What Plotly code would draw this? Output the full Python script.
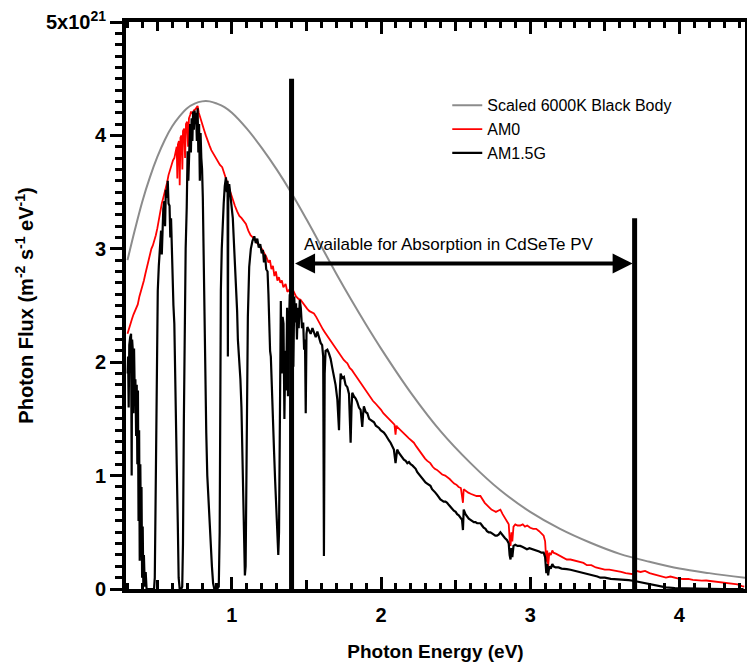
import plotly.graph_objects as go

# ---------------- data (flux in units of 1e21 m^-2 s^-1 eV^-1) ----------------
bb_energy = [0.30, 0.35, 0.40, 0.45, 0.50, 0.55, 0.60, 0.65, 0.70, 0.75, 0.80, 0.85, 0.90, 0.95,
             1.00, 1.10, 1.20, 1.30, 1.40, 1.50, 1.60, 1.70, 1.80, 1.90, 2.00, 2.20, 2.40, 2.60,
             2.80, 3.00, 3.20, 3.40, 3.60, 3.80, 4.00, 4.20, 4.44]
bb_flux = [2.90, 3.17, 3.42, 3.63, 3.81, 3.96, 4.08, 4.17, 4.24, 4.28, 4.30, 4.30, 4.28, 4.25,
           4.20, 4.06, 3.89, 3.70, 3.49, 3.26, 3.02, 2.78, 2.55, 2.33, 2.12, 1.73, 1.39, 1.11,
           0.87, 0.68, 0.53, 0.41, 0.31, 0.24, 0.18, 0.14, 0.10]

am0_energy = [0.300, 0.310, 0.320, 0.330, 0.340, 0.350, 0.360, 0.369, 0.380, 0.390, 0.400, 0.410,
              0.420, 0.430, 0.440, 0.450, 0.460, 0.470, 0.480, 0.490, 0.500, 0.510, 0.520, 0.530,
              0.540, 0.547, 0.555, 0.565, 0.575, 0.585, 0.595, 0.605, 0.614, 0.622, 0.630, 0.634,
              0.638, 0.645, 0.650, 0.655, 0.662, 0.668, 0.672, 0.680, 0.686, 0.692, 0.700, 0.706,
              0.712, 0.720, 0.726, 0.735, 0.745, 0.755, 0.765, 0.770, 0.778, 0.786, 0.795, 0.805,
              0.815, 0.825, 0.837, 0.850, 0.862, 0.875, 0.890, 0.904, 0.920, 0.935, 0.945, 0.960,
              0.975, 0.990, 1.005, 1.020, 1.035, 1.050, 1.065, 1.080, 1.094, 1.110, 1.125, 1.140,
              1.155, 1.170, 1.185, 1.200, 1.215, 1.230, 1.245, 1.255, 1.265, 1.275, 1.285, 1.295,
              1.305, 1.315, 1.325, 1.335, 1.345, 1.360, 1.372, 1.385, 1.400, 1.415, 1.430, 1.445,
              1.460, 1.475, 1.490, 1.505, 1.520, 1.535, 1.550, 1.565, 1.580, 1.595, 1.610, 1.625,
              1.640, 1.655, 1.662, 1.675, 1.690, 1.705, 1.720, 1.735, 1.750, 1.765, 1.774, 1.790,
              1.805, 1.820, 1.835, 1.850, 1.865, 1.885, 1.900, 1.915, 1.930, 1.945, 1.960, 1.975,
              1.990, 2.000, 2.015, 2.030, 2.045, 2.060, 2.075, 2.090, 2.097, 2.103, 2.108, 2.125,
              2.140, 2.155, 2.170, 2.185, 2.200, 2.220, 2.235, 2.250, 2.265, 2.280, 2.295, 2.310,
              2.330, 2.345, 2.360, 2.375, 2.390, 2.410, 2.430, 2.443, 2.460, 2.475, 2.490, 2.505,
              2.520, 2.535, 2.549, 2.554, 2.570, 2.585, 2.600, 2.620, 2.640, 2.666, 2.680, 2.695,
              2.710, 2.725, 2.740, 2.755, 2.770, 2.785, 2.800, 2.815, 2.830, 2.845, 2.856, 2.862,
              2.868, 2.874, 2.880, 2.888, 2.900, 2.915, 2.933, 2.950, 2.965, 2.980, 3.000, 3.020,
              3.040, 3.060, 3.075, 3.090, 3.100, 3.108, 3.114, 3.120, 3.128, 3.138, 3.148, 3.156,
              3.175, 3.200, 3.220, 3.245, 3.270, 3.300, 3.330, 3.357, 3.380, 3.410, 3.440, 3.468,
              3.500, 3.530, 3.560, 3.580, 3.610, 3.640, 3.670, 3.690, 3.710, 3.740, 3.770, 3.800,
              3.830, 3.860, 3.890, 3.910, 3.940, 3.970, 4.000, 4.030, 4.060, 4.090, 4.120, 4.150,
              4.180, 4.210, 4.240, 4.270, 4.300, 4.330, 4.360, 4.390, 4.420, 4.435]
am0_flux = [2.25, 2.30, 2.34, 2.38, 2.42, 2.45, 2.48, 2.51, 2.58, 2.62, 2.68, 2.72,
            2.78, 2.84, 2.90, 2.95, 3.00, 3.03, 3.07, 3.12, 3.18, 3.26, 3.33, 3.40,
            3.45, 3.48, 3.52, 3.58, 3.65, 3.70, 3.74, 3.78, 3.80, 3.86, 3.90, 3.62,
            3.92, 3.95, 3.56, 3.98, 4.00, 3.70, 4.04, 4.06, 3.80, 4.10, 4.12, 3.90,
            4.15, 4.18, 4.21, 4.19, 4.22, 4.23, 4.25, 4.26, 4.20, 4.16, 4.12, 4.08,
            4.04, 4.00, 3.95, 3.91, 3.87, 3.84, 3.80, 3.78, 3.74, 3.72, 3.68, 3.61,
            3.54, 3.49, 3.42, 3.38, 3.33, 3.29, 3.27, 3.24, 3.22, 3.16, 3.12, 3.10,
            3.08, 3.05, 3.03, 3.00, 2.97, 2.93, 2.88, 2.90, 2.82, 2.85, 2.76, 2.80,
            2.72, 2.75, 2.70, 2.72, 2.66, 2.69, 2.62, 2.64, 2.60, 2.62, 2.58, 2.56,
            2.55, 2.52, 2.49, 2.47, 2.45, 2.44, 2.43, 2.40, 2.36, 2.32, 2.29, 2.26,
            2.23, 2.21, 2.19, 2.16, 2.13, 2.10, 2.07, 2.04, 2.02, 2.00, 1.99, 1.95,
            1.93, 1.90, 1.87, 1.84, 1.82, 1.78, 1.74, 1.72, 1.68, 1.66, 1.64, 1.62,
            1.60, 1.58, 1.55, 1.53, 1.51, 1.49, 1.47, 1.45, 1.36, 1.44, 1.43, 1.41,
            1.39, 1.37, 1.35, 1.33, 1.31, 1.29, 1.26, 1.23, 1.20, 1.17, 1.15, 1.13,
            1.11, 1.08, 1.06, 1.05, 1.03, 1.01, 1.00, 0.99, 0.97, 0.95, 0.93, 0.92,
            0.90, 0.89, 0.76, 0.88, 0.86, 0.85, 0.84, 0.83, 0.82, 0.82, 0.79, 0.76,
            0.74, 0.72, 0.70, 0.69, 0.68, 0.69, 0.70, 0.66, 0.63, 0.60, 0.57, 0.44,
            0.38, 0.50, 0.42, 0.55, 0.57, 0.56, 0.56, 0.57, 0.55, 0.56, 0.54, 0.53,
            0.53, 0.51, 0.49, 0.47, 0.42, 0.24, 0.34, 0.20, 0.32, 0.30, 0.34, 0.32,
            0.31, 0.29, 0.28, 0.26, 0.26, 0.25, 0.24, 0.23, 0.21, 0.21, 0.19, 0.18,
            0.17, 0.17, 0.16, 0.16, 0.15, 0.14, 0.13, 0.13, 0.16, 0.15, 0.16, 0.14,
            0.13, 0.12, 0.11, 0.10, 0.11, 0.10, 0.09, 0.088, 0.09, 0.08, 0.075, 0.073,
            0.075, 0.07, 0.07, 0.065, 0.06, 0.05, 0.044, 0.04, 0.025, 0.02]

am15_energy = [0.301, 0.304, 0.308, 0.312, 0.318, 0.324, 0.328, 0.331, 0.336, 0.340, 0.344, 0.349,
               0.353, 0.358, 0.362, 0.366, 0.370, 0.374, 0.378, 0.382, 0.386, 0.390, 0.394, 0.398,
               0.402, 0.406, 0.410, 0.416, 0.422, 0.428, 0.440, 0.460, 0.478, 0.483, 0.490, 0.497,
               0.503, 0.510, 0.518, 0.525, 0.530, 0.535, 0.540, 0.547, 0.552, 0.557, 0.563, 0.570,
               0.575, 0.582, 0.587, 0.592, 0.597, 0.603, 0.608, 0.614, 0.620, 0.625, 0.630, 0.637,
               0.643, 0.650, 0.660, 0.667, 0.672, 0.678, 0.684, 0.690, 0.697, 0.703, 0.708, 0.713,
               0.720, 0.725, 0.730, 0.735, 0.740, 0.745, 0.750, 0.755, 0.760, 0.765, 0.770, 0.775,
               0.780, 0.785, 0.790, 0.795, 0.800, 0.805, 0.810, 0.816, 0.822, 0.828, 0.835, 0.842,
               0.850, 0.858, 0.866, 0.874, 0.882, 0.900, 0.912, 0.918, 0.922, 0.926, 0.932, 0.938,
               0.945, 0.952, 0.960, 0.966, 0.971, 0.973, 0.976, 0.982, 0.988, 0.994, 1.000, 1.006,
               1.012, 1.018, 1.027, 1.035, 1.040, 1.049, 1.057, 1.064, 1.071, 1.076, 1.082, 1.087,
               1.092, 1.097, 1.102, 1.107, 1.116, 1.127, 1.138, 1.150, 1.160, 1.170, 1.180, 1.190,
               1.200, 1.208, 1.215, 1.222, 1.230, 1.239, 1.245, 1.250, 1.256, 1.261, 1.268, 1.275,
               1.283, 1.290, 1.298, 1.306, 1.311, 1.316, 1.322, 1.328, 1.334, 1.340, 1.346, 1.352,
               1.358, 1.364, 1.370, 1.376, 1.382, 1.388, 1.394, 1.400, 1.406, 1.412, 1.418, 1.424,
               1.430, 1.436, 1.442, 1.448, 1.455, 1.462, 1.470, 1.478, 1.484, 1.490, 1.495, 1.500,
               1.506, 1.515, 1.528, 1.540, 1.550, 1.562, 1.573, 1.585, 1.595, 1.605, 1.612, 1.617,
               1.622, 1.628, 1.640, 1.650, 1.662, 1.673, 1.684, 1.695, 1.707, 1.712, 1.718, 1.724,
               1.729, 1.740, 1.751, 1.762, 1.774, 1.785, 1.796, 1.802, 1.807, 1.818, 1.830, 1.840,
               1.852, 1.863, 1.874, 1.880, 1.885, 1.897, 1.908, 1.920, 1.930, 1.942, 1.953, 1.965,
               1.975, 1.986, 1.997, 2.008, 2.019, 2.030, 2.042, 2.053, 2.064, 2.075, 2.086, 2.097,
               2.103, 2.108, 2.120, 2.131, 2.142, 2.153, 2.165, 2.176, 2.187, 2.198, 2.210, 2.220,
               2.232, 2.243, 2.254, 2.265, 2.276, 2.286, 2.298, 2.309, 2.320, 2.331, 2.342, 2.353,
               2.364, 2.376, 2.387, 2.398, 2.410, 2.420, 2.432, 2.443, 2.455, 2.466, 2.477, 2.488,
               2.500, 2.510, 2.521, 2.532, 2.543, 2.549, 2.554, 2.566, 2.577, 2.588, 2.600, 2.610,
               2.622, 2.633, 2.644, 2.655, 2.666, 2.677, 2.688, 2.700, 2.710, 2.722, 2.733, 2.744,
               2.755, 2.766, 2.777, 2.788, 2.800, 2.815, 2.830, 2.845, 2.856, 2.862, 2.868, 2.874,
               2.880, 2.888, 2.900, 2.915, 2.933, 2.950, 2.965, 2.978, 2.995, 3.020, 3.040, 3.060,
               3.075, 3.090, 3.100, 3.108, 3.114, 3.120, 3.128, 3.138, 3.148, 3.156, 3.170, 3.190,
               3.210, 3.230, 3.245, 3.270, 3.300, 3.330, 3.357, 3.390, 3.420, 3.450, 3.470, 3.500,
               3.540, 3.580, 3.620, 3.660, 3.690, 3.720, 3.760, 3.800, 3.850, 3.910, 3.970, 4.030,
               4.100, 4.200, 4.300, 4.430]
am15_flux = [1.90, 2.05, 1.60, 2.15, 2.22, 2.25, 1.00, 2.20, 2.10, 1.55, 2.12, 1.70,
             1.85, 1.35, 1.80, 1.10, 1.75, 0.60, 1.40, 0.25, 1.10, 0.50, 0.90, 0.10,
             0.55, 0.05, 0.30, 0.02, 0.15, 0.00, 0.00, 0.00, 0.00, 0.10, 0.90, 1.90,
             2.63, 2.85, 3.05, 3.16, 2.95, 3.25, 3.35, 3.42, 3.20, 3.52, 3.45, 3.60,
             3.40, 3.38, 3.10, 3.27, 2.95, 2.75, 2.50, 2.34, 1.95, 1.75, 1.10, 0.59,
             0.10, 0.00, 0.00, 0.02, 0.40, 1.50, 2.60, 3.00, 3.36, 3.86, 3.60, 3.95,
             4.10, 3.85, 4.15, 3.95, 4.21, 4.05, 4.22, 4.10, 4.20, 3.95, 4.24, 3.85,
             4.10, 3.60, 4.02, 3.80, 3.70, 3.45, 2.92, 2.30, 1.80, 1.38, 1.00, 0.79,
             0.55, 0.30, 0.20, 0.05, 0.00, 0.00, 0.02, 0.50, 1.75, 2.63, 3.00, 3.22,
             3.40, 3.55, 3.63, 3.50, 3.60, 2.05, 3.55, 3.57, 3.50, 3.45, 3.40, 3.27,
             3.10, 2.95, 2.69, 2.45, 2.20, 2.05, 1.85, 1.60, 1.10, 0.60, 0.38, 0.12,
             0.20, 0.90, 1.70, 2.40, 2.84, 3.00, 3.07, 3.11, 3.05, 3.09, 3.01, 3.04,
             2.96, 2.99, 2.88, 2.95, 2.82, 2.80, 2.60, 2.34, 2.10, 2.05, 1.70, 1.46,
             1.20, 0.95, 0.70, 0.50, 0.30, 0.50, 1.60, 2.54, 1.90, 2.40, 2.34, 1.50,
             2.10, 1.75, 2.48, 1.70, 2.30, 2.60, 2.20, 2.63, 2.45, 1.96, 2.58, 2.35,
             2.52, 2.20, 2.48, 2.30, 2.55, 2.48, 2.30, 2.35, 2.11, 2.20, 1.55, 2.25,
             2.31, 2.28, 2.25, 2.30, 2.26, 2.22, 2.27, 2.20, 2.17, 2.15, 2.05, 0.29,
             1.90, 2.10, 2.11, 2.08, 2.03, 1.95, 1.87, 1.80, 1.67, 1.55, 1.40, 1.75,
             1.90, 1.86, 1.87, 1.80, 1.78, 1.72, 1.29, 1.60, 1.73, 1.70, 1.68, 1.65,
             1.60, 1.58, 1.43, 1.55, 1.61, 1.56, 1.55, 1.50, 1.49, 1.48, 1.47, 1.44,
             1.43, 1.42, 1.40, 1.39, 1.38, 1.36, 1.33, 1.31, 1.29, 1.26, 1.23, 1.11,
             1.20, 1.23, 1.20, 1.18, 1.16, 1.14, 1.13, 1.11, 1.12, 1.10, 1.09, 1.08,
             1.06, 1.03, 1.01, 1.00, 0.98, 0.96, 0.94, 0.93, 0.92, 0.91, 0.88, 0.86,
             0.85, 0.83, 0.81, 0.79, 0.78, 0.77, 0.77, 0.76, 0.74, 0.72, 0.70, 0.69,
             0.68, 0.66, 0.65, 0.63, 0.61, 0.52, 0.70, 0.66, 0.64, 0.62, 0.61, 0.60,
             0.59, 0.59, 0.58, 0.58, 0.58, 0.56, 0.54, 0.53, 0.51, 0.50, 0.50, 0.49,
             0.48, 0.47, 0.47, 0.48, 0.50, 0.47, 0.45, 0.43, 0.40, 0.30, 0.26, 0.36,
             0.28, 0.38, 0.39, 0.38, 0.38, 0.37, 0.36, 0.35, 0.36, 0.35, 0.34, 0.33,
             0.32, 0.32, 0.28, 0.14, 0.22, 0.12, 0.20, 0.18, 0.22, 0.20, 0.19, 0.19,
             0.18, 0.18, 0.175, 0.17, 0.16, 0.15, 0.146, 0.13, 0.12, 0.11, 0.10, 0.10,
             0.09, 0.088, 0.085, 0.078, 0.073, 0.065, 0.055, 0.044, 0.030, 0.015, 0.008, 0.005,
             0.002, 0.001, 0.0, 0.0]

series_names = ["Scaled 6000K Black Body", "AM0", "AM1.5G"]
x_tick_vals = [1, 2, 3, 4]
x_tick_text = ["1", "2", "3", "4"]
x_half_ticks = [0.5, 1.5, 2.5, 3.5]
y_tick_vals = [0, 1, 2, 3, 4, 5]
y_tick_text = ["0", "1", "2", "3", "4", "5x10<sup>21</sup>"]

BANDGAP_EV = 1.4
UV_EDGE_EV = 3.7
BANDGAP_LINE_TOP = 4.5
UV_LINE_TOP = 3.27
ARROW_LEVEL = 2.87
LABEL_LEVEL = 3.04
LABEL_START_EV = 1.47
LABEL_TEXT = "Available for Absorption in CdSeTe PV"

X_RANGE = [0.29, 4.44]
Y_RANGE = [0, 5]

FONT = "Liberation Sans, Arial, Helvetica, sans-serif"

# ---------------- figure ----------------
fig = go.Figure()
fig.add_trace(go.Scatter(x=bb_energy, y=bb_flux, mode="lines", name=series_names[0],
                         line=dict(color="#8c8c8c", width=2, shape="spline")))
fig.add_trace(go.Scatter(x=am0_energy, y=am0_flux, mode="lines", name=series_names[1],
                         line=dict(color="#ff0000", width=1.8)))
fig.add_trace(go.Scatter(x=am15_energy, y=am15_flux, mode="lines", name=series_names[2],
                         line=dict(color="#000000", width=2.2)))
# invisible helper trace so the half-unit tick axis is drawn
fig.add_trace(go.Scatter(x=[X_RANGE[0]], y=[Y_RANGE[0]], xaxis="x2", yaxis="y",
                         mode="markers", marker=dict(opacity=0), showlegend=False,
                         hoverinfo="skip"))

# vertical marker lines
fig.add_shape(type="line", xref="x", yref="y", x0=BANDGAP_EV, x1=BANDGAP_EV, y0=0,
              y1=BANDGAP_LINE_TOP, line=dict(color="black", width=5))
fig.add_shape(type="line", xref="x", yref="y", x0=UV_EDGE_EV, x1=UV_EDGE_EV, y0=0,
              y1=UV_LINE_TOP, line=dict(color="black", width=5))

# double-headed arrow
fig.add_annotation(x=UV_EDGE_EV, y=ARROW_LEVEL, ax=BANDGAP_EV, ay=ARROW_LEVEL,
                   xref="x", yref="y", axref="x", ayref="y", text="", showarrow=True,
                   arrowhead=2, arrowside="end+start", arrowwidth=4, arrowsize=1.0,
                   arrowcolor="black", standoff=2, startstandoff=2)
fig.add_annotation(x=LABEL_START_EV, y=LABEL_LEVEL, xref="x", yref="y",
                   text=LABEL_TEXT, showarrow=False, xanchor="left", yanchor="middle",
                   font=dict(family=FONT, size=17, color="black"))

tick_font = dict(family=FONT, size=20, color="black", weight="bold")

# the page body adds an 8 px offset, so the figure is sized to fit inside the window
fig.update_layout(
    width=747, height=656,
    margin=dict(l=118, r=10, t=14, b=75),
    paper_bgcolor="white", plot_bgcolor="white",
    font=dict(family=FONT, color="black"),
    showlegend=True,
    legend=dict(x=0.519, y=0.883, xanchor="left", yanchor="top",
                bgcolor="rgba(0,0,0,0)", borderwidth=0,
                font=dict(family=FONT, size=16, color="black"),
                tracegroupgap=0, itemwidth=30),
    xaxis=dict(range=X_RANGE, tickvals=x_tick_vals, ticktext=x_tick_text, automargin=False,
               ticks="inside", ticklen=12, tickwidth=3, tickcolor="black",
               showline=True, linewidth=4, linecolor="black", mirror="ticks",
               showgrid=False, zeroline=False, tickfont=tick_font, ticklabelstandoff=5,
               ticklabeloverflow="allow",
               minor=dict(dtick=0.1, tick0=0, ticks="inside", ticklen=6, tickwidth=3,
                          tickcolor="black", showgrid=False),
               title=dict(text="Photon Energy (eV)", standoff=21,
                          font=dict(family=FONT, size=19, color="black", weight="bold"))),
    xaxis2=dict(range=X_RANGE, overlaying="x", anchor="y", side="bottom", automargin=False,
                tickvals=x_half_ticks, ticks="inside", ticklen=9, tickwidth=3,
                tickcolor="black", showticklabels=False, showline=False, mirror="ticks",
                showgrid=False, zeroline=False),
    yaxis=dict(range=Y_RANGE, tickvals=y_tick_vals, ticktext=y_tick_text, automargin=False,
               ticks="outside", ticklen=12, tickwidth=3, tickcolor="black",
               showline=True, linewidth=4, linecolor="black", mirror="ticks",
               showgrid=False, zeroline=False, tickfont=tick_font,
               ticklabeloverflow="allow",
               minor=dict(dtick=0.1, tick0=0, ticks="outside", ticklen=7, tickwidth=3,
                          tickcolor="black", showgrid=False),
               title=dict(text="Photon Flux (m<sup>-2</sup> s<sup>-1</sup> eV<sup>-1</sup>)",
                          standoff=8,
                          font=dict(family=FONT, size=20, color="black", weight="bold"))),
)

fig.write_html("out.html")
